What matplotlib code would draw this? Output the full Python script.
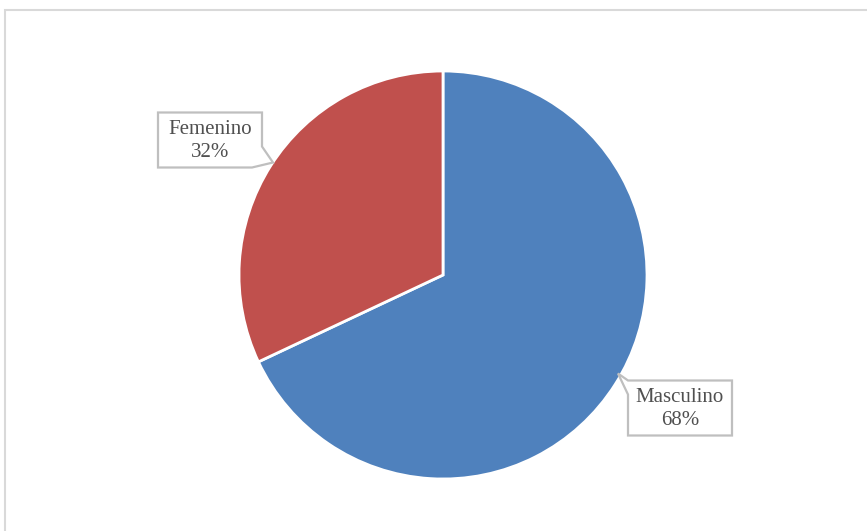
import matplotlib

matplotlib.use("Agg")
import matplotlib.pyplot as plt
from matplotlib.patches import Polygon, Rectangle

labels = ["Masculino", "Femenino"]
shares = [68, 32]
colors = ["#4F81BD", "#C0504D"]

# pie geometry in pixels (figure is 867x531 at dpi 100)
W, H = 867, 531
CX, CY, R = 443, 275, 204


def px(dx, dy):
    """pixel offset -> data units (y up)"""
    return dx / R, -dy / R


def callout(ax, cx, cy, text, tip_side):
    # box 104x55 px with a small pointer, centre given in data units
    hw, hh = 52 / R, 27.5 / R
    if tip_side == "lower-right":
        pts = [(-hw, hh), (hw, hh), (hw, hh - 34 / R), (hw + 11 / R, -hh + 5 / R),
               (hw - 10 / R, -hh), (-hw, -hh)]
    else:
        pts = [(-hw, hh), (-hw + 10 / R, hh), (hw, hh), (hw, -hh), (-hw, -hh),
               (-hw, hh - 14 / R), (-hw - 10 / R, hh + 7 / R)]
    poly = Polygon([(cx + x, cy + y) for x, y in pts], closed=True,
                   facecolor="white", edgecolor="#BFBFBF", lw=1.6, zorder=5)
    ax.add_patch(poly)
    ax.text(cx, cy - 1 / R, text, ha="center", va="center", fontsize=15,
            family="Liberation Serif", color="#505050", linespacing=1.3, zorder=6)


fig = plt.figure(figsize=(W / 100, H / 100), dpi=100)
fig.patches.append(Rectangle((5 / W, -0.1), 1.2, 1 - 10 / H + 0.1, transform=fig.transFigure,
                             facecolor="none", edgecolor="#D9D9D9", lw=1.5))
ax = fig.add_axes([0, 0, 1, 1])
ax.pie(shares, colors=colors, startangle=90, counterclock=False, radius=1,
       wedgeprops=dict(edgecolor="white", linewidth=2))
ax.set_xlim(-CX / R, (W - CX) / R)
ax.set_ylim((CY - H) / R, CY / R)
ax.set_aspect("equal")
ax.axis("off")

for lab, val in zip(labels, shares):
    txt = f"{lab}\n{val}%"
    if lab == "Femenino":
        x, y = px(210 - CX, 140 - CY)
        callout(ax, x, y, txt, "lower-right")
    else:
        x, y = px(680 - CX, 408 - CY)
        callout(ax, x, y, txt, "upper-left")

fig.savefig("out.png", dpi=100)
